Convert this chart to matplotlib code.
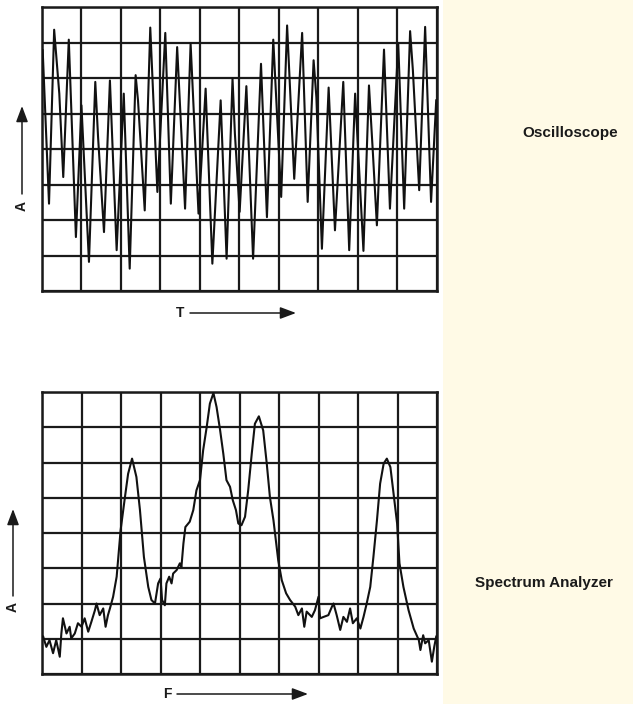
import matplotlib
matplotlib.use("Agg")
import matplotlib.pyplot as plt
from matplotlib.patches import Rectangle

# oscilloscope trace: peaks / troughs (10 x 8 divisions)
scope_t = [0.03, 0.19, 0.32, 0.45, 0.55, 0.69, 0.87, 1.01, 1.20, 1.36, 1.43, 1.58,
           1.73, 1.90, 2.08, 2.23, 2.38, 2.44, 2.61, 2.75, 2.93, 3.13, 3.27, 3.43,
           3.63, 3.77, 3.97, 4.15, 4.32, 4.53, 4.68, 4.83, 4.89, 5.01, 5.18, 5.35,
           5.55, 5.70, 5.86, 6.06, 6.21, 6.39, 6.59, 6.73, 6.88, 6.95, 7.09, 7.26,
           7.42, 7.63, 7.78, 7.93, 8.14, 8.28, 8.38, 8.48, 8.66, 8.81, 9.02, 9.17,
           9.32, 9.39, 9.55, 9.70, 9.85, 9.98]
scope_a = [6.78, 2.46, 7.36, 5.56, 3.21, 7.08, 1.52, 5.23, 0.82, 5.89, 4.34, 1.66,
           5.93, 1.15, 5.56, 0.63, 6.08, 5.37, 2.27, 7.42, 2.79, 7.27, 2.46, 6.87,
           2.32, 6.97, 2.18, 5.70, 0.77, 5.37, 0.91, 5.98, 4.43, 2.23, 5.77, 0.91,
           6.40, 2.08, 7.08, 2.65, 7.48, 3.16, 7.27, 2.51, 6.50, 5.46, 1.19, 5.73,
           1.71, 5.89, 1.15, 5.56, 1.13, 5.79, 3.87, 1.85, 6.80, 2.32, 6.97, 2.32,
           7.32, 6.22, 2.84, 7.44, 2.51, 5.37]

# spectrum analyzer trace
spec_f = [0.03, 0.11, 0.19, 0.28, 0.36, 0.45, 0.49, 0.53, 0.62, 0.70, 0.74, 0.83,
          0.91, 1.00, 1.08, 1.17, 1.25, 1.34, 1.38, 1.46, 1.55, 1.61, 1.67, 1.72,
          1.80, 1.89, 1.99, 2.10, 2.18, 2.28, 2.39, 2.48, 2.58, 2.69, 2.77, 2.86,
          2.94, 3.00, 3.04, 3.11, 3.15, 3.22, 3.28, 3.32, 3.41, 3.49, 3.53, 3.58,
          3.63, 3.74, 3.83, 3.91, 4.00, 4.08, 4.17, 4.25, 4.34, 4.42, 4.51, 4.59,
          4.67, 4.76, 4.83, 4.91, 4.97, 5.05, 5.14, 5.22, 5.31, 5.39, 5.49, 5.60,
          5.69, 5.77, 5.86, 5.98, 6.07, 6.18, 6.28, 6.41, 6.49, 6.58, 6.64, 6.70,
          6.83, 6.91, 7.00, 7.04, 7.13, 7.25, 7.34, 7.38, 7.46, 7.55, 7.63, 7.72,
          7.80, 7.87, 7.97, 8.06, 8.14, 8.22, 8.31, 8.39, 8.48, 8.56, 8.65, 8.73,
          8.82, 8.90, 8.99, 9.05, 9.15, 9.28, 9.41, 9.54, 9.58, 9.65, 9.70, 9.79,
          9.87, 9.93, 9.98]
spec_a = [1.06, 0.77, 0.96, 0.59, 0.96, 0.49, 1.15, 1.58, 1.15, 1.34, 1.01, 1.15,
          1.44, 1.34, 1.58, 1.20, 1.48, 1.81, 2.00, 1.67, 1.86, 1.34, 1.67, 1.86,
          2.19, 2.76, 4.08, 5.02, 5.68, 6.11, 5.59, 4.65, 3.32, 2.47, 2.10, 2.00,
          2.57, 2.71, 2.10, 1.95, 2.57, 2.76, 2.57, 2.85, 2.95, 3.14, 3.04, 3.70,
          4.17, 4.32, 4.65, 5.21, 5.50, 6.35, 7.01, 7.67, 7.97, 7.57, 6.91, 6.25,
          5.50, 5.31, 4.93, 4.65, 4.27, 4.22, 4.46, 5.21, 6.25, 7.10, 7.31, 6.91,
          5.97, 5.02, 4.36, 3.23, 2.66, 2.29, 2.10, 1.91, 1.67, 1.86, 1.34, 1.77,
          1.62, 1.81, 2.19, 1.58, 1.62, 1.67, 1.91, 2.00, 1.67, 1.25, 1.62, 1.48,
          1.86, 1.44, 1.58, 1.29, 1.62, 2.00, 2.47, 3.32, 4.36, 5.40, 5.97, 6.11,
          5.87, 5.12, 4.27, 3.14, 2.47, 1.81, 1.29, 0.96, 0.68, 1.10, 0.87, 0.96,
          0.35, 0.77, 1.06]

W, H = 633, 704
fig = plt.figure(figsize=(W / 100, H / 100), dpi=100)
fig.patch.set_facecolor("white")
fig.add_artist(Rectangle((443 / W, 0), 1 - 443 / W, 1, transform=fig.transFigure,
                         facecolor="#fffae6", edgecolor="none", zorder=0))


def screen(rect, x, y):
    ax = fig.add_axes(rect)
    ax.plot(x, y, color="#111111", lw=1.5, zorder=3)
    ax.set_xlim(0, 10)
    ax.set_ylim(0, 8)
    ax.set_xticks(range(11))
    ax.set_yticks(range(9))
    ax.tick_params(length=0, labelbottom=False, labelleft=False)
    ax.grid(True, color="#1a1a1a", lw=1.6)
    for s in ax.spines.values():
        s.set_linewidth(1.8)
        s.set_color("#1a1a1a")
    return ax


screen([41.5 / W, 1 - 291 / H, 395.5 / W, 284 / H], scope_t, scope_a)
screen([42 / W, 1 - 674 / H, 395 / W, 282 / H], spec_f, spec_a)


def arrow(x0, y0, x1, y1):
    # coordinates in pixels from the top-left corner
    fig.add_artist(plt.Annotation("", xy=(x1, H - y1), xytext=(x0, H - y0),
                                  xycoords="figure pixels", textcoords="figure pixels",
                                  arrowprops=dict(arrowstyle="-|>,head_length=0.8,head_width=0.3",
                                                  color="#1a1a1a", lw=1.1, mutation_scale=12,
                                                  shrinkA=0, shrinkB=0)))


def label(x, y, s, **kw):
    fig.text(x / W, 1 - y / H, s, ha="center", va="center", color="#1a1a1a",
             family="Liberation Sans", fontweight="bold", **kw)


label(22, 206, "A", fontsize=10, rotation=90)
arrow(22, 194, 22, 106)
label(180, 313, "T", fontsize=10)
arrow(190, 313, 296, 313)

label(13, 607, "A", fontsize=10, rotation=90)
arrow(13, 596, 13, 509)
label(167, 694, "F", fontsize=10)
arrow(177, 694, 308, 694)

label(570, 133, "Oscilloscope", fontsize=11)
label(544, 583, "Spectrum Analyzer", fontsize=11)

fig.savefig("out.png", dpi=100)
